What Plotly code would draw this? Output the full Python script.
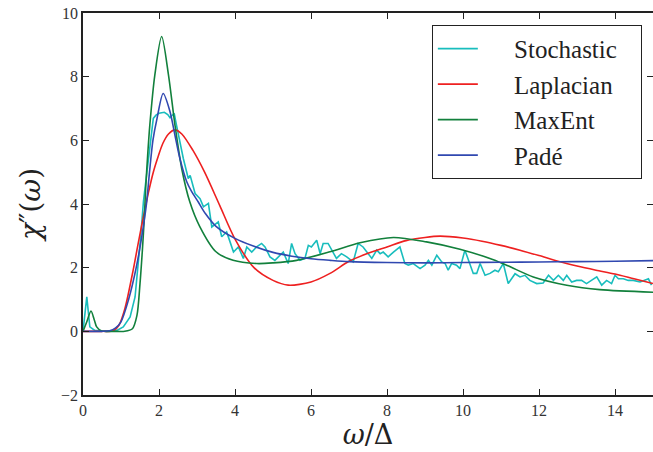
import plotly.graph_objects as go

# ---- data ----
stoch_x = [0.0, 0.1, 0.18, 0.31, 0.62, 0.89, 1.06, 1.24, 1.37, 1.45, 1.52, 1.59, 1.72, 1.85, 1.92,
           2.0, 2.14, 2.23, 2.29, 2.4, 2.46, 2.64, 2.77, 2.82, 2.95, 3.08, 3.17, 3.3, 3.39, 3.56,
           3.65, 3.78, 3.87, 3.96, 4.09, 4.22, 4.31, 4.44, 4.57, 4.70, 4.79, 4.92, 5.05, 5.18,
           5.27, 5.40, 5.49, 5.58, 5.71, 5.84, 5.93, 6.01, 6.15, 6.24, 6.32, 6.45, 6.54, 6.67,
           6.80, 6.94, 7.11, 7.24, 7.37, 7.6, 7.73, 7.82, 7.90, 8.03, 8.17, 8.34, 8.47, 8.56,
           8.69, 8.87, 9.0, 9.09, 9.18, 9.31, 9.44, 9.53, 9.61, 9.70, 9.83, 9.92, 10.05, 10.18,
           10.27, 10.36, 10.45, 10.58, 10.71, 10.84, 10.93, 11.06, 11.19, 11.37, 11.50, 11.63,
           11.76, 11.94, 12.11, 12.25, 12.38, 12.51, 12.64, 12.73, 12.86, 12.99, 13.12, 13.25,
           13.39, 13.52, 13.65, 13.78, 13.91, 14.00, 14.09, 14.22, 14.35, 14.48, 14.66, 14.88, 14.96]
stoch_y = [0.0, 1.08, 0.14, 0.03, 0.0, 0.03, 0.14, 0.45, 1.08, 2.0, 3.0, 4.07, 5.43, 6.69, 6.79,
           6.85, 6.88, 6.81, 6.71, 6.85, 6.48, 5.43, 4.8, 4.9, 4.33, 4.17, 3.91, 4.02, 3.28, 3.44,
           2.97, 3.12, 2.81, 2.49, 2.65, 2.29, 2.65, 2.49, 2.65, 2.76, 2.65, 2.34, 2.23, 2.39,
           2.49, 2.13, 2.76, 2.44, 2.23, 2.29, 2.70, 2.65, 2.86, 2.44, 2.76, 2.76, 2.55, 2.29,
           2.44, 2.34, 2.18, 2.76, 2.65, 2.29, 2.55, 2.44, 2.49, 2.34, 2.49, 2.65, 2.13, 2.08,
           2.13, 1.97, 2.08, 2.23, 2.08, 2.39, 2.18, 2.13, 1.92, 2.13, 2.08, 1.97, 2.55, 2.13,
           1.82, 1.82, 2.13, 1.76, 1.82, 1.92, 1.87, 2.13, 1.50, 1.81, 1.71, 1.76,
           1.60, 1.50, 1.52, 1.76, 1.60, 1.76, 1.60, 1.76, 1.55, 1.60, 1.60, 1.50,
           1.60, 1.71, 1.45, 1.60, 1.50, 1.76, 1.65, 1.65, 1.60, 1.60, 1.55, 1.65, 1.45]

lap_x = [0, 0.5, 0.8, 0.95, 1.1, 1.32, 1.45, 1.59, 1.72, 1.85, 1.98, 2.1, 2.25, 2.42, 2.6, 2.89,
         3.2, 3.6, 4.0, 4.5, 5.0, 5.4, 6.0, 6.5, 7.0, 7.5, 8.0, 8.5, 9.0, 9.4, 10.0, 10.5, 11.0,
         11.5, 12.0, 12.5, 13.0, 13.5, 14.0, 14.5, 15.0]
lap_y = [0, 0, 0.02, 0.2, 0.7, 1.92, 2.75, 3.6, 4.35, 5.0, 5.5, 5.9, 6.2, 6.33, 6.2, 5.69,
         5.0, 3.95, 2.9, 2.0, 1.6, 1.45, 1.55, 1.82, 2.2, 2.45, 2.65, 2.85, 2.95, 2.99, 2.93, 2.83, 2.7,
         2.55, 2.38, 2.2, 2.05, 1.92, 1.8, 1.65, 1.5]

maxent_x = [0, 0.1, 0.21, 0.3, 0.36, 0.49, 0.6, 0.8, 1.1, 1.3, 1.42, 1.5, 1.56, 1.61, 1.65, 1.7,
            1.76, 1.89, 2.07, 2.25, 2.42, 2.6, 2.81, 3.07, 3.5, 3.95, 4.57, 5.0, 5.62, 6.5, 7.29,
            8.17, 9.04, 9.92, 10.8, 11.2, 11.85, 12.73, 13.6, 15]
maxent_y = [0, 0.3, 0.64, 0.35, 0.14, 0.01, 0, 0, 0, 0.08, 0.5, 1.5, 2.5, 3.5, 4.5, 5.5,
            6.5, 8.05, 9.26, 8.05, 6.48, 5.1, 4.07, 3.3, 2.5, 2.23, 2.13, 2.15, 2.23, 2.5, 2.78,
            2.95, 2.81, 2.58, 2.25, 2.05, 1.71, 1.45, 1.31, 1.23]

pade_x = [0, 0.5, 0.7, 0.85, 1.0, 1.2, 1.4, 1.55, 1.67, 1.75, 1.84, 1.95, 2.11, 2.29, 2.42, 2.55,
          2.73, 2.86, 3.03, 3.22, 3.5, 4.0, 4.5, 5.0, 5.5, 6.0, 6.5, 7.0, 8.0, 9.0, 10, 11, 12, 13, 14, 15]
pade_y = [0, 0, 0.02, 0.1, 0.3, 1.0, 2.0, 3.0, 4.0, 5.0, 6.0, 6.7, 7.47, 6.9, 6.16, 5.43,
          4.7, 4.39, 4.07, 3.7, 3.3, 2.92, 2.67, 2.48, 2.36, 2.28, 2.23, 2.19, 2.16, 2.15, 2.16, 2.17,
          2.18, 2.19, 2.2, 2.22]

x_ticks = [0, 2, 4, 6, 8, 10, 12, 14]
y_ticks = [-2, 0, 2, 4, 6, 8, 10]

series = [
    ("Stochastic", stoch_x, stoch_y, "#18BDBD", "linear"),
    ("Laplacian", lap_x, lap_y, "#EE2020", "spline"),
    ("MaxEnt", maxent_x, maxent_y, "#12803C", "spline"),
    ("Padé", pade_x, pade_y, "#3048B0", "spline"),
]

PAD_L = "\u00a0" * 5
PAD_R = "\u00a0" * 3

fig = go.Figure()
for name, xs, ys, col, shape in series:
    fig.add_trace(go.Scatter(
        x=xs, y=ys, mode="lines", name=PAD_L + name + PAD_R, legendgroup=name,
        line=dict(color=col, width=1.6, shape=shape, smoothing=0.8 if shape == "spline" else None),
    ))

axis_common = dict(
    showline=True, linecolor="#222", linewidth=1.5, mirror="ticks",
    ticks="inside", ticklen=6, tickwidth=1, tickcolor="#222",
    showgrid=False, zeroline=False, automargin=False,
    tickfont=dict(family="Liberation Serif", size=16, color="#333"),
)

fig.update_layout(
    width=653, height=452,
    margin=dict(l=83, r=0, t=13, b=57, autoexpand=False),
    plot_bgcolor="white", paper_bgcolor="white",
    xaxis=dict(range=[0, 15], tickvals=x_ticks,
               title=dict(text="<i>ω</i>/Δ", font=dict(family="DejaVu Serif", size=27, color="#222"),
                          standoff=6),
               **axis_common),
    yaxis=dict(range=[-2, 10], tickvals=y_ticks,
               title=dict(text="<i>χ</i>″(<i>ω</i>)", font=dict(family="DejaVu Serif", size=28, color="#222"),
                          standoff=12),
               **axis_common),
    legend=dict(x=0.612, y=0.969, xanchor="left", yanchor="top",
                bgcolor="white", bordercolor="#222", borderwidth=1,
                font=dict(family="Liberation Serif", size=25, color="#222"),
                itemwidth=40, tracegroupgap=0, traceorder="grouped"),
    showlegend=True,
)

fig.write_html(
    "out.html",
    config={"displayModeBar": False},
    post_script="document.body.style.margin='0';document.body.style.overflow='hidden';",
)
